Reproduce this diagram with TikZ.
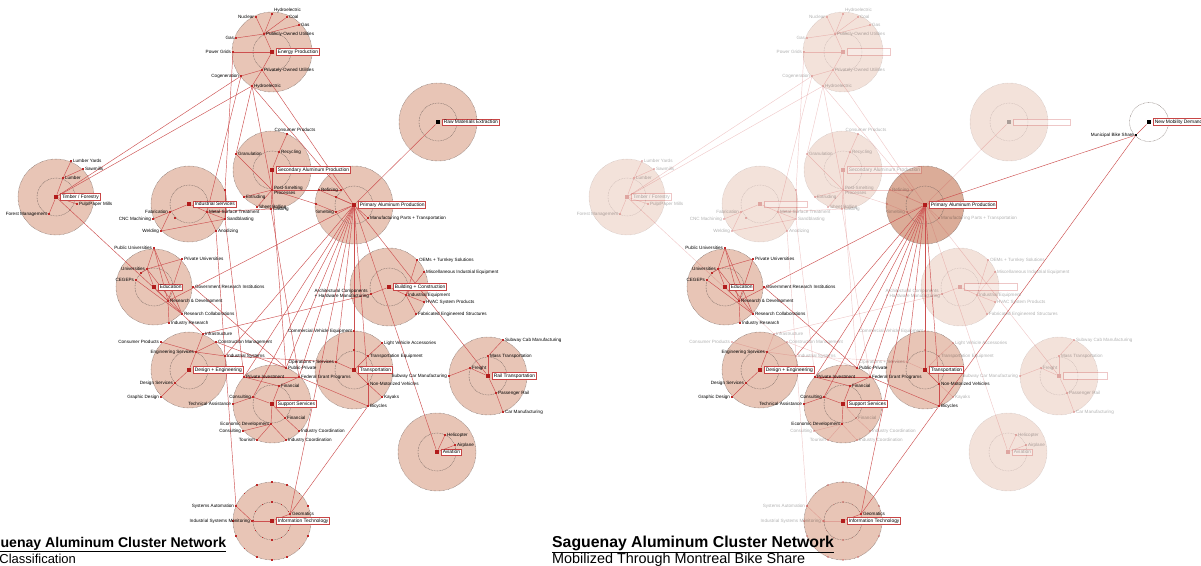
\documentclass[tikz,border=0pt]{standalone}
\usepackage{fontspec}
\setmainfont{Liberation Sans}
\pgfdeclarelayer{rings}
\pgfdeclarelayer{edges}
\pgfsetlayers{rings,edges,main}
\definecolor{ringc}{RGB}{232,197,182}
\definecolor{ringdk}{RGB}{219,172,152}
\definecolor{ringb}{RGB}{110,95,90}
\definecolor{hubc}{RGB}{178,28,28}
\definecolor{leafc}{RGB}{190,40,40}
\definecolor{edgec}{RGB}{205,80,80}
\definecolor{boxc}{RGB}{200,70,70}
\newcommand\lbl{\fontsize{4.6}{5}\selectfont}
\newcommand\bxf{\fontsize{4.9}{5.4}\selectfont}
\tikzset{
 ring/.style={fill=ringc, draw=ringb, dash pattern=on 0.5pt off 0.8pt, line width=0.45pt},
 innerring/.style={draw=ringb, dash pattern=on 0.8pt off 0.8pt, line width=0.4pt},
 hub/.style={rectangle, fill=hubc, inner sep=0pt, minimum size=4.5pt},
 leaf/.style={rectangle, fill=leafc, inner sep=0pt, minimum size=2pt},
 lab/.style={font=\lbl, inner sep=0.6pt, align=left, text=black},
 box/.style={font=\bxf, draw=boxc, fill=white, line width=0.45pt, inner sep=1.1pt, text=black},
 edge/.style={draw=edgec, line width=0.45pt},
}
\newcommand\ring[3]{\filldraw[ring,#1] (#2) circle[radius=#3]; \draw[innerring,#1] (#2) circle[radius=19];}
\newcommand\hubn[5][]{\node[hub,#2,#1,label={[box,#2,label distance=2pt]right:{#5}}] (#3) at (#4) {};}
\newcommand\lf[5]{\node[leaf,#1,label={[lab,#1]#4:{#5}}] (#2) at (#3) {};}
\newcommand\ed[3]{\draw[edge,#1] (#2) -- (#3);}
\newcommand\network{%
 \begin{pgfonlayer}{rings}
  \ring{lor}{272,52}{40}
  \ring{lor}{438,122}{39}
  \ring{lor}{56,197}{38}
  \ring{lor}{189,204}{38}
  \ring{lor}{272,170}{39}
  \ring{hi,pk}{354,205}{39}
  \ring{hi}{154,287}{38}
  \ring{lor}{389,287}{39}
  \ring{hi}{189,370}{38}
  \ring{hi}{272,404}{39}
  \ring{hi}{354,370}{39}
  \ring{lor}{488,376}{39}
  \ring{lor}{437,452}{39}
  \ring{hi}{272,521}{39}
  \foreach \a in {0,22.5,...,337.5}{\fill[leafc,lo] (272,521) ++(\a:39) ++(-0.9,-0.9) rectangle ++(1.8,1.8);}
  \foreach \a in {0,30,...,330}{\fill[leafc,lo] (272,521) ++(\a:19) ++(-0.9,-0.9) rectangle ++(1.8,1.8);}
 \end{pgfonlayer}
 % hubs
 \hubn{lo,nt}{E}{272,52}{Energy Production}
 \hubn[fill=black]{lo,nt}{RM}{438,122}{Raw Materials Extraction}
 \hubn{lo}{T}{56,197}{Timber / Forestry}
 \hubn{lo,nt}{IS}{189,204}{Industrial Services}
 \hubn{lo}{SA}{272,170}{Secondary Aluminum Production}
 \hubn{hi}{PA}{354,205}{Primary Aluminum Production}
 \hubn{hi}{ED}{154,287}{Education}
 \hubn{lo,nt}{BC}{389,287}{Building + Construction}
 \hubn{hi}{DE}{189,370}{Design + Engineering}
 \hubn{hi}{SS}{272,404}{Support Services}
 \hubn{hi}{TR}{354,370}{Transportation}
 \hubn{lo,nt}{RT}{488,376}{Rail Transportation}
 \hubn{lo}{AV}{437,452}{Aviation}
 \hubn{hi}{IT}{272,521}{Information Technology}
 % energy
 \lf{lo}{e1}{264,34}{right}{Publicly-Owned Utilities}
 \lf{lo}{e2}{256,17}{left}{Nuclear}
 \lf{lo}{e3}{272,14}{above right}{Hydroelectric}
 \lf{lo}{e4}{287,17}{right}{Coal}
 \lf{lo}{e5}{299,25}{right}{Gas}
 \lf{lo}{e6}{236,38}{left}{Gas}
 \lf{lo}{e7}{233,52}{left}{Power Grids}
 \lf{lo}{e8}{262,70}{right}{Privately-Owned Utilities}
 \lf{lo}{e9}{241,76}{left}{Cogeneration}
 \lf{lo}{e10}{252,86}{right}{Hydroelectric}
 % timber
 \lf{lo}{t1}{63,178}{right}{Lumber}
 \lf{lo}{t2}{71,161}{right}{Lumber Yards}
 \lf{lo}{t3}{83,169}{right}{Sawmills}
 \lf{lo}{t4}{77,204}{right}{Pulp/Paper Mills}
 \lf{lo}{t5}{49,214}{left}{Forest Management}
 % industrial services
 \lf{lo}{i1}{170,212}{left}{Fabrication}
 \lf{lo}{i2}{153,219}{left}{CNC Machining}
 \lf{lo}{i3}{161,231}{left}{Welding}
 \lf{lo}{i4}{207,212}{right}{Metal Surface Treatment}
 \lf{lo}{i5}{225,219}{right}{Sandblasting}
 \lf{lo}{i6}{216,231}{right}{Anodizing}
 \node[leaf,lo] (i7) at (175,218) {};
 \node[leaf,lo] (i8) at (225,190) {};
 % secondary aluminum
 \node[leaf,lo,label={[lab,lo,xshift=8pt]above:{Consumer Products}}] (s1) at (287,134) {};
 \lf{lo}{s2}{279,152}{right}{Recycling}
 \lf{lo}{s3}{236,154}{right}{Granulation}
 \lf{lo}{s4}{272,190}{right}{Post-Smelting\\Processes}
 \lf{lo}{s5}{244,197}{right}{Extruding}
 \lf{lo}{s6}{257,207}{right}{Sheet Rolling}
 \lf{lo}{s7}{271,209}{right}{Casting}
 % primary aluminum
 \lf{lo}{p1}{319,190}{right}{Refining}
 \lf{lo}{p2}{336,212}{left}{Smelting}
 \lf{lo}{p3}{368,218}{right}{Manufacturing Parts + Transportation}
 \node[leaf,lo] (p4) at (336,197) {};
 \node[leaf,lo] (p5) at (341,190) {};
 \node[leaf,lo] (p6) at (316,204) {};
 % education
 \lf{hi}{d1}{154,248}{left}{Public Universities}
 \lf{hi}{d2}{182,259}{right}{Private Universities}
 \lf{hi}{d3}{147,269}{left}{Universities}
 \lf{hi}{d4}{136,280}{left}{CEGEPs}
 \lf{hi}{d5}{193,287}{right}{Government Research Institutions}
 \lf{hi}{d6}{168,301}{right}{Research \& Development}
 \lf{hi}{d7}{182,314}{right}{Research Collaborations}
 \lf{hi}{d8}{169,323}{right}{Industry Research}
 \node[leaf,hi] (d9) at (141,273) {};
 % building
 \lf{lo}{b1}{417,260}{right}{OEMs + Turnkey Solutions}
 \lf{lo}{b2}{424,272}{right}{Miscellaneous Industrial Equipment}
 \lf{lo}{b3}{406,295}{right}{Industrial Equipment}
 \lf{lo}{b4}{424,302}{right}{HVAC System Products}
 \lf{lo}{b5}{416,314}{right}{Fabricated Engineered Structures}
 \lf{lo}{b6}{371,294}{left}{Architectural Components\\+ Hardware Manufacturing}
 % design
 \lf{lo}{g1}{203,334}{right}{Infrastructure}
 \lf{lo}{g2}{216,342}{right}{Construction Management}
 \lf{hi}{g3}{196,352}{left}{Engineering Services}
 \lf{lo}{g4}{161,342}{left}{Consumer Products}
 \lf{lo}{g5}{225,356}{right}{Industrial Systems}
 \lf{hi}{g6}{175,383}{left}{Design Services}
 \lf{hi}{g7}{161,397}{left}{Graphic Design}
 % support
 \lf{hi}{u1}{244,377}{right}{Private Investment}
 \lf{hi}{u2}{286,368}{right}{Public-Private}
 \lf{hi}{u3}{299,377}{right}{Federal Grant Programs}
 \lf{hi}{u4}{279,386}{right}{Financial}
 \lf{hi}{u5}{253,397}{left}{Consulting}
 \lf{hi}{u6}{233,404}{left}{Technical Assistance}
 \lf{lo}{u7}{285,418}{right}{Financial}
 \lf{hi}{u8}{271,424}{left}{Economic Development}
 \lf{lo}{u9}{299,431}{right}{Industry Coordination}
 \lf{lo}{u10}{243,431}{left}{Consulting}
 \lf{lo}{u11}{257,440}{left}{Tourism}
 \lf{lo}{u12}{286,440}{right}{Industry Coordination}
 % transportation
 \lf{lo}{r1}{354,331}{left}{Commercial Vehicle Equipment}
 \lf{lo}{r2}{382,343}{right}{Light Vehicle Accessories}
 \lf{lo}{r3}{368,356}{right}{Transportation Equipment}
 \lf{lo}{r4}{336,362}{left}{Operations + Services}
 \lf{hi}{r5}{368,384}{right}{Non-Motorized Vehicles}
 \lf{lo}{r6}{382,397}{right}{Kayaks}
 \lf{hi}{r7}{368,406}{right}{Bicycles}
 \node[leaf,lo] (r8) at (354,350) {};
 % rail
 \lf{lo}{l1}{503,340}{right}{Subway Cab Manufacturing}
 \lf{lo}{l2}{488,356}{right}{Mass Transportation}
 \lf{lo}{l3}{470,368}{right}{Freight}
 \lf{lo}{l4}{449,376}{left}{Subway Car Manufacturing}
 \lf{lo}{l5}{496,393}{right}{Passenger Rail}
 \lf{lo}{l6}{503,412}{right}{Car Manufacturing}
 % aviation
 \lf{lo}{a1}{445,435}{right}{Helicopter}
 \lf{lo}{a2}{455,445}{right}{Airplane}
 % IT
 \lf{lo}{it1}{236,506}{left}{Systems Automation}
 \lf{lo}{it2}{252,521}{left}{Industrial Systems Monitoring}
 \lf{hi}{it3}{290,514}{right}{Geomatics}
 \begin{pgfonlayer}{edges}
  \ed{lo}{e1}{e2}\ed{lo}{e1}{e3}\ed{lo}{e1}{e4}\ed{lo}{e1}{e5}\ed{lo}{e1}{e6}\ed{lo}{e1}{E}
  \ed{lo}{E}{e8}\ed{lo}{e8}{e10}\ed{lo}{e8}{e9}\ed{lo}{E}{e7}
  \ed{lo}{T}{e9}\ed{lo}{T}{e10}\ed{lo}{e7}{i8}\ed{lo}{e8}{PA}\ed{lo}{e10}{p5}\ed{lo}{e10}{s3}
  \ed{lo}{e9}{i4}\ed{lo}{e10}{s4}
  \ed{lo}{T}{t1}\ed{lo}{t1}{t2}\ed{lo}{t1}{t3}\ed{lo}{T}{t4}\ed{lo}{T}{t5}\ed{lo}{T}{d7}
  \ed{lo}{IS}{i1}\ed{lo}{i1}{i2}\ed{lo}{i1}{i3}\ed{lo}{IS}{i4}\ed{lo}{i4}{i5}\ed{lo}{i4}{i6}
  \ed{lo}{i3}{i5}\ed{lo}{i8}{i5}\ed{lo}{i4}{s7}\ed{lo}{i6}{g5}\ed{lo}{i5}{u1}
  \ed{lo}{SA}{s2}\ed{lo}{s2}{s1}\ed{lo}{SA}{s4}\ed{lo}{s3}{s4}\ed{lo}{s4}{s5}\ed{lo}{s4}{s6}
  \ed{lo}{s4}{s7}\ed{lo}{s4}{p1}\ed{lo}{s4}{p6}\ed{lo}{s4}{u2}\ed{lo}{s7}{u3}
  \ed{lo}{PA}{p1}\ed{lo}{PA}{p2}\ed{lo}{PA}{p3}\ed{lo}{p1}{p5}\ed{lo}{p4}{PA}\ed{lo}{p6}{p2}\ed{lo}{RM}{PA}
  \ed{hi}{PA}{d6}\ed{hi}{PA}{g5}\ed{hi}{PA}{u1}\ed{hi}{PA}{u5}\ed{hi}{PA}{u2}\ed{hi}{PA}{u3}
  \ed{hi}{PA}{it3}\ed{hi}{PA}{r4}\ed{hi}{PA}{TR}\ed{hi}{PA}{r5}\ed{lo}{PA}{RT}\ed{lo}{PA}{AV}
  \ed{hi}{d1}{d3}\ed{hi}{d3}{d2}\ed{hi}{d1}{d6}\ed{hi}{d1}{d7}\ed{hi}{d3}{d7}\ed{hi}{d4}{d7}
  \ed{hi}{ED}{d6}\ed{hi}{d6}{d8}\ed{hi}{d2}{d6}\ed{hi}{ED}{d3}\ed{hi}{d3}{d9}\ed{hi}{d5}{u2}\ed{lo}{d7}{g1}
  \ed{lo}{BC}{b6}\ed{lo}{BC}{b3}\ed{lo}{b3}{b1}\ed{lo}{b3}{b2}\ed{lo}{b3}{b4}\ed{lo}{b3}{b5}\ed{lo}{b6}{g1}
  \ed{hi}{DE}{g3}\ed{lo}{g3}{g4}\ed{lo}{g3}{g1}\ed{lo}{g3}{g2}\ed{lo}{g3}{g5}\ed{hi}{DE}{g6}\ed{hi}{g6}{g7}
  \ed{lo}{g2}{u2}\ed{lo}{g5}{r4}
  \ed{hi}{u4}{u1}\ed{hi}{u4}{u3}\ed{hi}{SS}{u4}\ed{hi}{SS}{u5}\ed{hi}{u5}{u6}\ed{lo}{SS}{u7}\ed{lo}{u7}{u9}
  \ed{hi}{SS}{u8}\ed{lo}{u8}{u10}\ed{lo}{u8}{u11}\ed{lo}{u8}{u12}\ed{hi}{u1}{u3}\ed{hi}{u3}{r7}
  \ed{lo}{TR}{r1}\ed{lo}{TR}{r3}\ed{lo}{r3}{r2}\ed{lo}{TR}{r4}\ed{hi}{TR}{r5}\ed{lo}{r5}{r6}\ed{hi}{r5}{r7}
  \ed{lo}{RT}{l2}\ed{lo}{l2}{l1}\ed{lo}{RT}{l3}\ed{lo}{l3}{l4}\ed{lo}{RT}{l5}\ed{lo}{l5}{l6}
  \ed{lo}{AV}{a1}\ed{lo}{AV}{a2}
  \ed{lo}{IT}{it2}\ed{lo}{it2}{it1}\ed{hi}{IT}{it3}\ed{lo}{it1}{g5}\ed{hi}{it3}{r7}
 \end{pgfonlayer}
}
\begin{document}
\begin{tikzpicture}[x=1pt,y=-1pt]
\useasboundingbox (0,0) rectangle (1201,565);
\begin{scope}[name prefix=L-, hi/.style={}, lo/.style={}, lor/.style={}, pk/.style={}, nt/.style={}]
 \network
\end{scope}
\begin{scope}[name prefix=R-, xshift=571pt, hi/.style={}, lo/.style={opacity=0.3}, lor/.style={fill opacity=0.5, draw opacity=0.35}, pk/.style={fill=ringdk}, nt/.style={text opacity=0}]
 \network
 \begin{pgfonlayer}{rings}
  \draw[ring,fill=none] (578,122) circle[radius=19.5];
 \end{pgfonlayer}
 \hubn[fill=black]{hi}{NM}{578,122}{New Mobility Demand}
 \node[leaf,fill=black,label={[lab]left:{Municipal Bike Share}}] (MB) at (565,135) {};
 \begin{pgfonlayer}{edges}
  \ed{hi}{MB}{NM}\ed{hi}{MB}{PA}\ed{hi}{MB}{r7}
 \end{pgfonlayer}
\end{scope}
\node[anchor=base west, inner sep=0pt, font=\fontsize{14.1}{16}\selectfont\bfseries] (title1) at (-25.5,547) {\underline{Saguenay Aluminum Cluster Network}};
\node[anchor=base west, inner sep=0pt, font=\fontsize{13}{15}\selectfont] (sub1) at (-42,563) {Sector Classification};
\node[anchor=base west, inner sep=0pt, font=\fontsize{15.8}{18}\selectfont\bfseries] (title2) at (552,547) {\underline{Saguenay Aluminum Cluster Network}};
\node[anchor=base west, inner sep=0pt, font=\fontsize{14.4}{16}\selectfont] (sub2) at (552,563) {Mobilized Through Montreal Bike Share};
\end{tikzpicture}
\end{document}
